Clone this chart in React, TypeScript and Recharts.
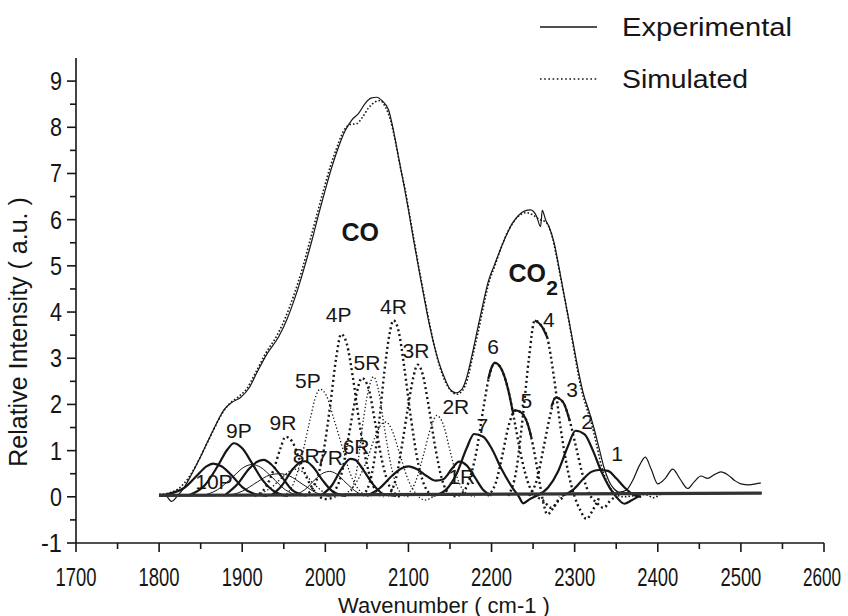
import React from "react";
import { ComposedChart, Line, Scatter, XAxis, YAxis, Legend, Label } from "recharts";

type Pt = [number, number];

const X_TICKS = [1700, 1750, 1800, 1850, 1900, 1950, 2000, 2050, 2100, 2150, 2200, 2250, 2300, 2350, 2400, 2450, 2500, 2550, 2600];
const Y_TICKS = [-1, -0.5, 0, 0.5, 1, 1.5, 2, 2.5, 3, 3.5, 4, 4.5, 5, 5.5, 6, 6.5, 7, 7.5, 8, 8.5, 9];

// envelopes
const experimental: Pt[] = [
  [1800, 0.06], [1808, 0.03], [1815, -0.1], [1822, 0.02], [1830, 0.2], [1838, 0.45], [1848, 0.8], [1858, 1.18],
  [1868, 1.55], [1878, 1.88], [1888, 2.05], [1898, 2.15], [1908, 2.35], [1918, 2.7], [1930, 3.1], [1944, 3.47],
  [1954, 3.85], [1964, 4.34], [1974, 4.92], [1984, 5.56], [1992, 6.12], [2000, 6.65], [2008, 7.15], [2016, 7.58],
  [2024, 7.93], [2032, 8.16], [2040, 8.3], [2048, 8.52], [2055, 8.63], [2062, 8.65], [2068, 8.58], [2076, 8.38],
  [2082, 7.93], [2088, 7.36], [2094, 6.8], [2100, 6.21], [2106, 5.58], [2112, 4.98], [2118, 4.4], [2124, 3.83],
  [2130, 3.35], [2137, 2.89], [2144, 2.55], [2150, 2.33], [2157, 2.25], [2164, 2.32], [2170, 2.58], [2177, 3.11],
  [2183, 3.62], [2189, 4.12], [2196, 4.66], [2203, 5.0], [2209, 5.28], [2217, 5.63], [2225, 5.92], [2233, 6.1],
  [2240, 6.19], [2247, 6.21], [2254, 6.08], [2259, 5.85], [2261, 6.2], [2265, 6.0], [2269, 5.85], [2275, 5.52],
  [2281, 4.98], [2287, 4.4], [2293, 3.83], [2299, 3.25], [2305, 2.68], [2311, 2.2], [2317, 1.87], [2323, 1.5],
  [2329, 1.08], [2335, 0.65], [2341, 0.35], [2347, 0.18], [2354, 0.1], [2362, 0.14], [2370, 0.36], [2378, 0.68],
  [2385, 0.86], [2392, 0.6], [2400, 0.28], [2409, 0.4], [2418, 0.6], [2427, 0.38], [2436, 0.18], [2444, 0.33],
  [2452, 0.45], [2460, 0.4], [2468, 0.48], [2476, 0.54], [2484, 0.48], [2492, 0.36], [2500, 0.28], [2510, 0.26],
  [2518, 0.28], [2524, 0.3],
];

const simulated: Pt[] = [
  [1800, 0.05], [1815, 0.1], [1825, 0.2], [1835, 0.4], [1845, 0.7], [1855, 1.06], [1865, 1.43], [1875, 1.78],
  [1885, 2.02], [1895, 2.16], [1905, 2.33], [1915, 2.65], [1928, 3.1], [1942, 3.5], [1952, 3.88], [1962, 4.36],
  [1972, 4.92], [1982, 5.58], [1990, 6.12], [1998, 6.65], [2006, 7.15], [2014, 7.57], [2022, 7.92], [2030, 8.06],
  [2038, 8.08], [2044, 8.2], [2052, 8.42], [2060, 8.55], [2066, 8.58], [2072, 8.45], [2078, 8.18], [2084, 7.72],
  [2090, 7.16], [2096, 6.65], [2102, 6.04], [2108, 5.43], [2114, 4.82], [2120, 4.25], [2126, 3.7], [2132, 3.2],
  [2138, 2.8], [2145, 2.47], [2152, 2.28], [2158, 2.22], [2165, 2.3], [2171, 2.55], [2178, 3.1], [2184, 3.58],
  [2190, 4.1], [2197, 4.65], [2204, 5.0], [2210, 5.32], [2218, 5.68], [2226, 5.94], [2234, 6.1], [2242, 6.15],
  [2250, 6.1], [2258, 6.0], [2265, 5.95], [2272, 5.7], [2278, 5.22], [2284, 4.66], [2290, 4.1], [2296, 3.5],
  [2302, 2.88], [2308, 2.33], [2314, 1.95], [2320, 1.6], [2326, 1.16], [2332, 0.68], [2338, 0.36], [2344, 0.16],
  [2350, 0.05], [2358, 0.0], [2370, 0.02], [2385, 0.05], [2395, -0.02], [2405, 0.06], [2525, 0.08],
];

const baseline: Pt[] = [[1800, 0.03], [2525, 0.08]];

// CO bands, thick solid
const band10P: Pt[] = [[1800, 0.02], [1830, 0.19], [1845, 0.45], [1857, 0.66], [1865, 0.72], [1875, 0.66], [1888, 0.45], [1900, 0.21], [1915, 0.06], [1930, 0.02]];
const band9P: Pt[] = [[1835, 0.03], [1855, 0.25], [1870, 0.65], [1882, 1.02], [1890, 1.16], [1900, 1.05], [1912, 0.72], [1925, 0.35], [1940, 0.1], [1955, 0.02]];
const band8P: Pt[] = [[1880, 0.05], [1895, 0.29], [1908, 0.6], [1918, 0.76], [1926, 0.8], [1935, 0.7], [1948, 0.42], [1960, 0.15], [1975, 0.03]];
const band8R: Pt[] = [[1935, 0.03], [1948, 0.25], [1960, 0.58], [1970, 0.75], [1976, 0.77], [1985, 0.65], [1997, 0.35], [2010, 0.1], [2025, 0.02]];
const band6R: Pt[] = [[1995, 0.03], [2008, 0.25], [2020, 0.62], [2030, 0.82], [2036, 0.8], [2045, 0.6], [2057, 0.28], [2070, 0.06], [2085, 0.02]];
const band1R: Pt[] = [[2050, 0.03], [2065, 0.18], [2080, 0.45], [2092, 0.62], [2100, 0.66], [2110, 0.6], [2122, 0.45], [2133, 0.35], [2142, 0.38], [2152, 0.6], [2161, 0.76], [2170, 0.68], [2180, 0.42], [2190, 0.15], [2200, 0.03]];

// CO bands, thin solid
const thinA: Pt[] = [[1850, 0.02], [1870, 0.15], [1888, 0.42], [1902, 0.64], [1912, 0.7], [1922, 0.64], [1936, 0.42], [1952, 0.15], [1970, 0.02]];
const thinB: Pt[] = [[1880, 0.02], [1900, 0.12], [1918, 0.32], [1933, 0.47], [1945, 0.5], [1957, 0.45], [1972, 0.28], [1990, 0.08], [2005, 0.01]];
const band7R: Pt[] = [[1960, 0.02], [1975, 0.15], [1988, 0.38], [1998, 0.52], [2005, 0.55], [2013, 0.5], [2025, 0.3], [2038, 0.1], [2050, 0.02]];

// CO bands, thick dotted
const band9R: Pt[] = [[1915, 0.02], [1928, 0.2], [1938, 0.6], [1946, 1.05], [1952, 1.3], [1960, 1.2], [1968, 0.85], [1978, 0.4], [1988, 0.1], [2000, -0.05], [2012, 0.0]];
const band4P: Pt[] = [[1975, 0.02], [1988, 0.3], [1998, 1.0], [2006, 2.0], [2013, 3.0], [2019, 3.52], [2026, 3.3], [2033, 2.6], [2041, 1.6], [2050, 0.7], [2060, 0.15], [2070, 0.0]];
const band5R: Pt[] = [[2005, 0.02], [2018, 0.4], [2028, 1.3], [2036, 2.1], [2044, 2.57], [2052, 2.35], [2060, 1.6], [2068, 0.8], [2078, 0.2], [2090, 0.0]];
const band4R: Pt[] = [[2045, 0.02], [2056, 0.5], [2064, 1.5], [2071, 2.7], [2077, 3.5], [2082, 3.82], [2088, 3.6], [2095, 2.8], [2103, 1.7], [2112, 0.7], [2122, 0.15], [2132, 0.0]];
const band3R: Pt[] = [[2075, 0.02], [2085, 0.4], [2093, 1.2], [2100, 2.0], [2106, 2.6], [2111, 2.86], [2117, 2.66], [2124, 2.0], [2132, 1.1], [2140, 0.4], [2150, 0.05], [2160, 0.0]];

// CO bands, thin dotted
const band5P: Pt[] = [[1950, 0.02], [1962, 0.3], [1972, 0.9], [1982, 1.7], [1989, 2.2], [1994, 2.33], [2001, 2.2], [2010, 1.7], [2020, 1.1], [2030, 0.5], [2042, 0.12], [2055, 0.0]];
const band5Rb: Pt[] = [[2030, 0.05], [2038, 0.6], [2046, 1.7], [2053, 2.4], [2058, 2.6], [2064, 2.3], [2071, 1.5], [2080, 0.6], [2090, 0.1], [2100, 0.0]];
const band6P: Pt[] = [[2020, 0.02], [2035, 0.25], [2048, 0.7], [2060, 1.3], [2068, 1.58], [2073, 1.62], [2080, 1.45], [2090, 0.9], [2100, 0.35], [2110, 0.05], [2120, -0.07], [2130, 0.0]];
const band2R: Pt[] = [[2095, 0.02], [2108, 0.3], [2118, 0.9], [2127, 1.5], [2134, 1.76], [2142, 1.56], [2150, 1.0], [2158, 0.45], [2168, 0.1], [2180, 0.0]];
const thinDot: Pt[] = [[1915, 0.02], [1935, 0.2], [1950, 0.45], [1962, 0.6], [1972, 0.55], [1985, 0.3], [2000, 0.08], [2015, 0.0]];

// CO2 bands
const co2b7: Pt[] = [[2130, 0.02], [2145, 0.15], [2158, 0.5], [2170, 1.05], [2179, 1.36], [2190, 1.3], [2200, 1.05], [2212, 0.6], [2225, 0.2], [2233, 0.0], [2238, -0.14], [2246, -0.05], [2255, 0.03]];
const co2b6: Pt[] = [[2160, 0.02], [2172, 0.3], [2182, 1.0], [2190, 1.9], [2197, 2.6], [2204, 2.9], [2212, 2.76], [2220, 2.32], [2228, 1.6], [2236, 0.85], [2245, 0.25], [2255, 0.0], [2262, -0.08], [2272, -0.24], [2280, -0.1], [2288, 0.02]];
const co2b6top: Pt[] = [[2196, 2.55], [2200, 2.8], [2204, 2.9], [2212, 2.76], [2220, 2.32], [2226, 1.8]];
const co2b5: Pt[] = [[2195, 0.02], [2205, 0.3], [2213, 0.9], [2220, 1.5], [2229, 1.87], [2236, 1.82], [2243, 1.6], [2250, 1.1], [2256, 0.5], [2262, -0.1], [2267, -0.38], [2274, -0.25], [2282, 0.0]];
const co2b5top: Pt[] = [[2226, 1.85], [2229, 1.87], [2236, 1.82], [2243, 1.6], [2248, 1.28]];
const co2b4: Pt[] = [[2220, 0.02], [2230, 0.6], [2238, 1.8], [2245, 3.0], [2252, 3.82], [2260, 3.7], [2267, 3.45], [2275, 2.6], [2283, 1.5], [2292, 0.55], [2300, 0.0], [2307, -0.3], [2314, -0.48], [2322, -0.28], [2330, 0.0]];
const co2b4top: Pt[] = [[2252, 3.82], [2260, 3.7], [2267, 3.45]];
const co2b3: Pt[] = [[2245, 0.02], [2255, 0.4], [2263, 1.1], [2271, 1.8], [2277, 2.15], [2286, 2.05], [2294, 1.65], [2302, 1.05], [2310, 0.45], [2318, 0.05], [2326, -0.12], [2335, -0.24], [2342, -0.1], [2350, 0.02]];
const co2b3top: Pt[] = [[2272, 1.95], [2277, 2.15], [2286, 2.05], [2294, 1.65]];
const co2b2: Pt[] = [[2255, 0.02], [2268, 0.2], [2280, 0.55], [2292, 1.1], [2301, 1.43], [2312, 1.35], [2322, 1.0], [2332, 0.55], [2342, 0.2], [2350, 0.0], [2360, -0.15], [2368, -0.08], [2378, 0.02]];
const co2b1: Pt[] = [[2285, 0.02], [2298, 0.15], [2310, 0.38], [2320, 0.54], [2329, 0.58], [2340, 0.56], [2350, 0.4], [2360, 0.2], [2370, 0.05], [2380, 0.0]];

const LABELS = [
  { x: 2042, y: 5.74, text: "CO", bold: true },
  { x: 2243, y: 4.85, text: "CO", sub: "2", bold: true },
  { x: 2016, y: 3.94, text: "4P" },
  { x: 2082, y: 4.12, text: "4R" },
  { x: 2109, y: 3.17, text: "3R" },
  { x: 2050, y: 2.91, text: "5R" },
  { x: 2202, y: 3.25, text: "6" },
  { x: 2269, y: 3.83, text: "4" },
  { x: 1979, y: 2.52, text: "5P" },
  { x: 2157, y: 1.95, text: "2R" },
  { x: 2242, y: 2.08, text: "5" },
  { x: 2297, y: 2.32, text: "3" },
  { x: 2189, y: 1.54, text: "7" },
  { x: 2315, y: 1.62, text: "2" },
  { x: 2351, y: 0.93, text: "1" },
  { x: 1896, y: 1.44, text: "9P" },
  { x: 1949, y: 1.61, text: "9R" },
  { x: 1977, y: 0.89, text: "8R" },
  { x: 2005, y: 0.85, text: "7R" },
  { x: 2037, y: 1.1, text: "6R" },
  { x: 1866, y: 0.34, text: "10P" },
  { x: 2164, y: 0.43, text: "1R" },
];

const INK = "#161616";
const FONT = "'Liberation Sans', Arial, Helvetica, sans-serif";

const STYLES: Record<string, { w: number; dash?: string; color?: string }> = {
  thickSolid: { w: 2.2 },
  thinSolid: { w: 1 },
  thickDot: { w: 2.4, dash: "2 3" },
  thinDot: { w: 1.3, dash: "1.3 2.2" },
  exp: { w: 1.2 },
  sim: { w: 1.6, dash: "1.6 2" },
  base: { w: 3.2, color: "#333" },
};

const SERIES: Array<{ id: string; pts: Pt[]; kind: string }> = [
  { id: "thinA", pts: thinA, kind: "thinSolid" },
  { id: "thinB", pts: thinB, kind: "thinSolid" },
  { id: "7R", pts: band7R, kind: "thinSolid" },
  { id: "thinDot", pts: thinDot, kind: "thinDot" },
  { id: "5P", pts: band5P, kind: "thinDot" },
  { id: "5Rb", pts: band5Rb, kind: "thinDot" },
  { id: "6P", pts: band6P, kind: "thinDot" },
  { id: "2R", pts: band2R, kind: "thinDot" },
  { id: "9R", pts: band9R, kind: "thickDot" },
  { id: "4P", pts: band4P, kind: "thickDot" },
  { id: "5R", pts: band5R, kind: "thickDot" },
  { id: "4R", pts: band4R, kind: "thickDot" },
  { id: "3R", pts: band3R, kind: "thickDot" },
  { id: "10P", pts: band10P, kind: "thickSolid" },
  { id: "9P", pts: band9P, kind: "thickSolid" },
  { id: "8P", pts: band8P, kind: "thickSolid" },
  { id: "8R", pts: band8R, kind: "thickSolid" },
  { id: "6R", pts: band6R, kind: "thickSolid" },
  { id: "1R", pts: band1R, kind: "thickSolid" },
  { id: "c6", pts: co2b6, kind: "thickDot" },
  { id: "c5", pts: co2b5, kind: "thickDot" },
  { id: "c4", pts: co2b4, kind: "thickDot" },
  { id: "c3", pts: co2b3, kind: "thickDot" },
  { id: "c6top", pts: co2b6top, kind: "thickSolid" },
  { id: "c5top", pts: co2b5top, kind: "thickSolid" },
  { id: "c4top", pts: co2b4top, kind: "thickSolid" },
  { id: "c3top", pts: co2b3top, kind: "thickSolid" },
  { id: "c7", pts: co2b7, kind: "thickSolid" },
  { id: "c2", pts: co2b2, kind: "thickSolid" },
  { id: "c1", pts: co2b1, kind: "thickSolid" },
  { id: "sim", pts: simulated, kind: "sim" },
  { id: "exp", pts: experimental, kind: "exp" },
  { id: "base", pts: baseline, kind: "base" },
];

const XTick = (props: any) => {
  const { x, y, payload } = props;
  const v = payload.value;
  const major = v % 100 === 0;
  return (
    <g>
      <line x1={x} x2={x} y1={y} y2={y + (major ? 9 : 6)} stroke={INK} strokeWidth={1.6} />
      {major && (
        <text x={v === 2600 ? x - 2 : x} y={y + 43} textAnchor="middle" fontFamily={FONT} fontSize={25} fill={INK}
          textLength={v === 2600 ? 38 : 41} lengthAdjust="spacingAndGlyphs">
          {v}
        </text>
      )}
    </g>
  );
};

const YTick = (props: any) => {
  const { x, y, payload } = props;
  const v = payload.value;
  const major = Number.isInteger(v);
  const s = String(v);
  return (
    <g>
      <line x1={x - (major ? 9 : 6)} x2={x} y1={y} y2={y} stroke={INK} strokeWidth={1.6} />
      {major && (
        <text x={x - 14} y={y + 9} textAnchor="end" fontFamily={FONT} fontSize={26} fill={INK}
          textLength={s.length === 1 ? 12 : 21} lengthAdjust="spacingAndGlyphs">
          {s}
        </text>
      )}
    </g>
  );
};

const BandLabel = (props: any) => {
  const { cx, cy, payload } = props;
  if (payload.bold) {
    return (
      <g>
        <text x={cx} y={cy} textAnchor="middle" dominantBaseline="central" fontFamily={FONT}
          fontSize={25} fontWeight="bold" fill={INK}>
          {payload.text}
        </text>
        {payload.sub && (
          <text x={cx + 19} y={cy + 22} fontFamily={FONT} fontSize={21} fontWeight="bold" fill={INK}>
            {payload.sub}
          </text>
        )}
      </g>
    );
  }
  return (
    <text x={cx} y={cy} textAnchor="middle" dominantBaseline="central" fontFamily={FONT} fontSize={21} fill={INK}>
      {payload.text}
    </text>
  );
};

const LegendBox = () => (
  <svg width={848} height={100} style={{ display: "block" }}>
    <line x1={540} x2={597} y1={27} y2={27} stroke={INK} strokeWidth={1.3} />
    <text x={622} y={36} fontFamily={FONT} fontSize={26} fill={INK} textLength={170} lengthAdjust="spacingAndGlyphs">
      Experimental
    </text>
    <line x1={540} x2={597} y1={79} y2={79} stroke={INK} strokeWidth={1.6} strokeDasharray="1.6 2.6" />
    <text x={622} y={88} fontFamily={FONT} fontSize={26} fill={INK} textLength={126} lengthAdjust="spacingAndGlyphs">
      Simulated
    </text>
  </svg>
);

export default function App() {
  return (
    <div style={{ position: "absolute", left: 0, top: 0, width: 848, height: 616, background: "#fff" }}>
      <ComposedChart width={848} height={616} margin={{ top: 58, right: 24, bottom: 0, left: 0 }}>
        <XAxis
          type="number"
          dataKey="x"
          domain={[1700, 2600]}
          ticks={X_TICKS}
          interval={0}
          height={73}
          tickSize={0}
          tickMargin={0}
          tickLine={false}
          axisLine={{ stroke: INK, strokeWidth: 1.6 }}
          tick={<XTick />}
          allowDataOverflow
        >
          <Label
            content={() => (
              <text x={444} y={613} textAnchor="middle" fontFamily={FONT} fontSize={22} fill={INK}>
                Wavenumber ( cm-1 )
              </text>
            )}
          />
        </XAxis>
        <YAxis
          type="number"
          domain={[-1, 9.5]}
          ticks={Y_TICKS}
          interval={0}
          width={76}
          tickSize={0}
          tickMargin={0}
          tickLine={false}
          axisLine={{ stroke: INK, strokeWidth: 1.6 }}
          tick={<YTick />}
          allowDataOverflow
        >
          <Label
            content={() => (
              <text x={0} y={0} transform="translate(27 332) rotate(-90)" textAnchor="middle"
                fontFamily={FONT} fontSize={25} fill={INK}>
                Relative Intensity ( a.u. )
              </text>
            )}
          />
        </YAxis>
        <Legend
          layout="vertical"
          align="center"
          verticalAlign="middle"
          wrapperStyle={{ position: "absolute", left: 0, top: 0, width: 848, height: 100 }}
          content={() => <LegendBox />}
        />
        {SERIES.map((s) => {
          const st = STYLES[s.kind];
          return (
            <Line
              key={s.id}
              name={s.id}
              data={s.pts.map(([x, y]) => ({ x, y }))}
              dataKey="y"
              type="monotone"
              stroke={st.color ?? INK}
              strokeWidth={st.w}
              strokeDasharray={st.dash}
              dot={false}
              activeDot={false}
              legendType="none"
              isAnimationActive={false}
            />
          );
        })}
        <Scatter data={LABELS} dataKey="y" shape={<BandLabel />} isAnimationActive={false} legendType="none" />
      </ComposedChart>
    </div>
  );
}
